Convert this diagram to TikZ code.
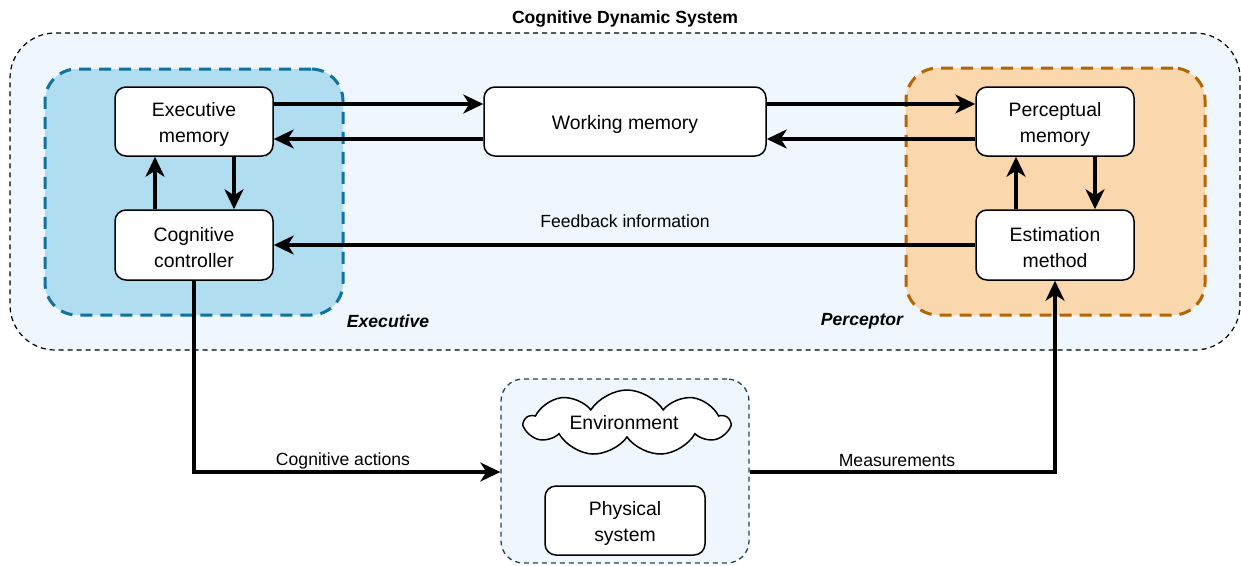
\documentclass[tikz,border=0pt]{standalone}
\usepackage{fontspec}
\setmainfont{Liberation Sans}
\usetikzlibrary{arrows.meta,shapes.symbols}
\definecolor{paleblue}{HTML}{EFF6FE}
\definecolor{execfill}{HTML}{B1DDF0}
\definecolor{execline}{HTML}{10739E}
\definecolor{percfill}{HTML}{FAD7AC}
\definecolor{percline}{HTML}{B46504}
\definecolor{envline}{HTML}{23445D}
\tikzset{
  every node/.style={font=\fontsize{19.4}{26}\selectfont, align=center},
  block/.style={draw=black, line width=1.5pt, fill=white, rounded corners=11pt, inner sep=0pt},
  txt/.style={yshift=-2.5pt},
  group/.style={dashed, inner sep=0pt},
  arr/.style={line width=3.2pt, -{Stealth[length=20pt,width=19pt,inset=6pt]}},
  lbl/.style={font=\fontsize{17.6}{21}\selectfont},
}
\begin{document}
\begin{tikzpicture}[x=1pt,y=-1pt]
\useasboundingbox (0,0) rectangle (1241,565);

% containers
\node[group, draw=black, line width=1.2pt, dash pattern=on 5pt off 4pt, fill=paleblue, rounded corners=45pt,
      minimum width=1230pt, minimum height=317pt] (cds) at (625,191.5) {};
\node[font=\fontsize{17.6}{21}\selectfont\bfseries] (title) at (625,19) {Cognitive Dynamic System};

\node[group, draw=execline, line width=3pt, dash pattern=on 12pt off 8pt, fill=execfill, rounded corners=32pt,
      minimum width=298pt, minimum height=246pt] (exec) at (194,192) {};
\node[group, draw=percline, line width=3pt, dash pattern=on 12pt off 8pt, fill=percfill, rounded corners=32pt,
      minimum width=299pt, minimum height=247pt] (perc) at (1055.5,191.5) {};
\node[lbl, font=\fontsize{17.6}{21}\selectfont\bfseries\itshape] (execlbl) at (388,321) {Executive};
\node[lbl, font=\fontsize{17.6}{21}\selectfont\bfseries\itshape] (perclbl) at (862,321) {Perceptor};

\node[group, draw=envline, line width=1.3pt, dash pattern=on 5pt off 4pt, fill=paleblue, rounded corners=22pt,
      minimum width=248pt, minimum height=184pt] (env) at (625,471) {};

% blocks, with their texts set a little below the geometric centre
\node[block, minimum width=158pt, minimum height=69pt] (em) at (194,121.5) {};
\node[txt] (emt) at (em) {Executive\\memory};
\node[block, minimum width=158pt, minimum height=70pt] (cc) at (194,245) {};
\node[txt] (cct) at (cc) {Cognitive\\controller};
\node[block, minimum width=282pt, minimum height=69pt] (wm) at (625,121.5) {};
\node[txt] (wmt) at (wm) {Working memory};
\node[block, minimum width=158pt, minimum height=69pt] (pm) at (1055,121.5) {};
\node[txt] (pmt) at (pm) {Perceptual\\memory};
\node[block, minimum width=158pt, minimum height=70pt] (est) at (1055,245) {};
\node[txt] (estt) at (est) {Estimation\\method};
\node[draw=black, line width=1.5pt, fill=white, cloud, cloud puffs=9, cloud puff arc=115, cloud ignores aspect,
      minimum width=204pt, minimum height=66pt, inner sep=0pt] (cloudenv) at (627,423) {};
\node[txt] (envtxt) at (624,420) {Environment};
\node[block, minimum width=160pt, minimum height=69pt] (phys) at (625,520.5) {};
\node[txt] (physt) at (phys) {Physical\\system};

% connectors
\draw[arr] ([yshift=17.5pt]em.east) -- ([yshift=17.5pt]wm.west);
\draw[arr] ([yshift=-17.5pt]wm.west) -- ([yshift=-17.5pt]em.east);
\draw[arr] ([yshift=17.5pt]wm.east) -- ([yshift=17.5pt]pm.west);
\draw[arr] ([yshift=-17.5pt]pm.west) -- ([yshift=-17.5pt]wm.east);

\draw[arr] ([xshift=40pt]em.south) -- ([xshift=40pt]cc.north);
\draw[arr] ([xshift=-39pt]cc.north) -- ([xshift=-39pt]em.south);
\draw[arr] ([xshift=40pt]pm.south) -- ([xshift=40pt]est.north);
\draw[arr] ([xshift=-39pt]est.north) -- ([xshift=-39pt]pm.south);

\draw[arr] (est.west) -- (cc.east);
\node[lbl] (fb) at (625,221) {Feedback information};

\draw[arr] (cc.south) |- ([yshift=-1pt]env.west);
\node[lbl] (ca) at (343,461) {Cognitive actions};
\draw[arr] ([yshift=-1pt]env.east) -| (est.south);
\node[lbl] (ms) at (897,461) {Measurements};
\end{tikzpicture}
\end{document}
